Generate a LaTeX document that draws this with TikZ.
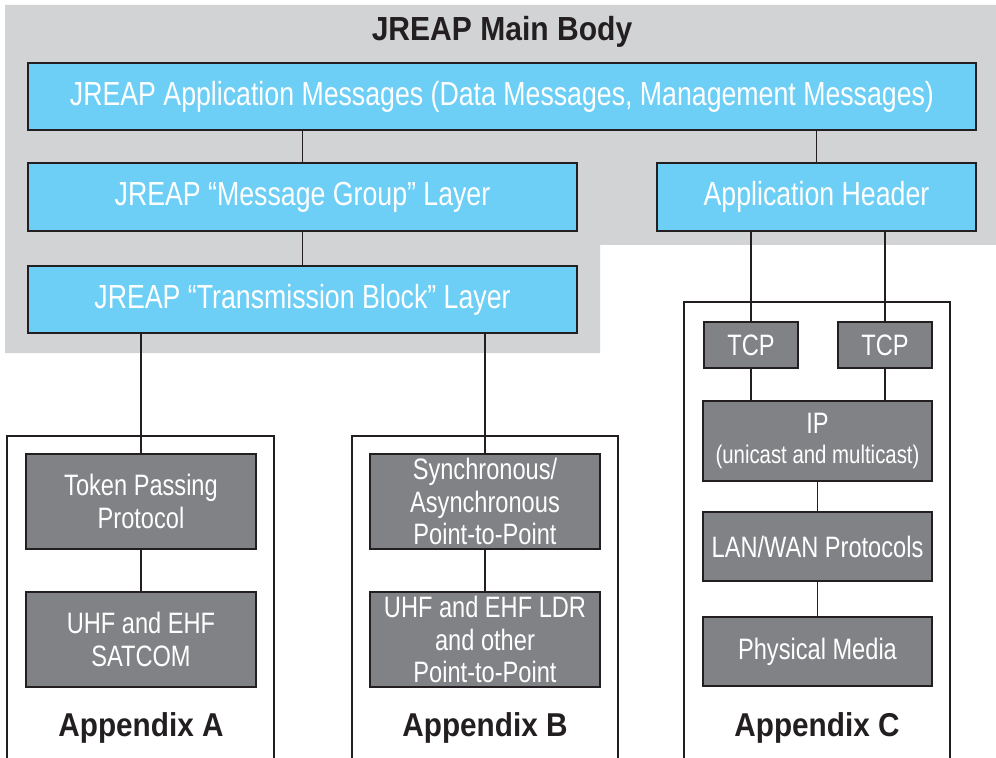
\documentclass[tikz,border=0pt]{standalone}
\usepackage{fontspec}
\setmainfont[FakeStretch=0.8]{Liberation Sans}
\newfontfamily\headfont[FakeStretch=0.9]{Liberation Sans}
\usepackage{tikz}
\usetikzlibrary{positioning, calc}
\definecolor{jCyan}{HTML}{6DCFF6}
\definecolor{jGray}{HTML}{808285}
\definecolor{jPanel}{HTML}{D1D3D4}
\definecolor{jInk}{HTML}{231F20}

\begin{document}
\begin{tikzpicture}[
  bluebox/.style={draw=jInk, line width=1.2pt, fill=jCyan, text=white,
                  minimum height=1.35cm, inner sep=0pt,
                  font=\fontsize{19}{22}\selectfont, align=center},
  graybox/.style={draw=jInk, line width=1.2pt, fill=jGray, text=white,
                  inner sep=0pt, minimum width=4.6cm,
                  font=\fontsize{16.8}{18.3}\selectfont, align=center},
  link/.style={draw=jInk, line width=0.8pt},
  frame/.style={draw=jInk, line width=1.1pt},
  apx/.style={font=\headfont\fontsize{18.8}{22}\bfseries\selectfont, text=jInk}
]
\useasboundingbox (0,0) rectangle (19.92,-15.16);

% main body panel
\fill[jPanel] (0.1,-0.1) -- (19.92,-0.1) -- (19.92,-4.9) -- (12,-4.9)
  -- (12,-7.06) -- (0.1,-7.06) -- cycle;
\node[font=\headfont\fontsize{19}{22}\bfseries\selectfont, text=jInk] (title) at (10.04,-0.64) {JREAP Main Body};

% appendix frames
\draw[frame] (0.14,-15.3) -- (0.14,-8.72) -- (5.48,-8.72) -- (5.48,-15.3);
\draw[frame] (7.04,-15.3) -- (7.04,-8.72) -- (12.36,-8.72) -- (12.36,-15.3);
\draw[frame] (13.68,-15.3) -- (13.68,-6.04) -- (19,-6.04) -- (19,-15.3);

% main body layers
\node[bluebox, minimum width=18.96cm] (appmsg) at (10.04,-1.93)
  {JREAP Application Messages (Data Messages, Management Messages)};
\node[bluebox, minimum width=10.98cm] (msggroup) at (6.05,-3.94)
  {JREAP \textquotedblleft Message Group\textquotedblright\ Layer};
\node[bluebox, minimum width=6.38cm] (apphdr) at (16.33,-3.94)
  {Application Header};
\node[bluebox, minimum width=10.98cm] (transblock) at (6.05,-5.99)
  {JREAP \textquotedblleft Transmission Block\textquotedblright\ Layer};

% appendix A
\node[graybox, minimum height=1.9cm] (token) at (2.82,-10.03) {Token Passing\\Protocol};
\node[graybox, minimum height=1.9cm] (satcom) at (2.82,-12.79) {UHF and EHF\\SATCOM};
\node[apx] (apxA) at (2.82,-14.56) {Appendix A};

% appendix B
\node[graybox, minimum height=1.9cm] (sync) at (9.7,-10.03) {Synchronous/\\Asynchronous\\Point-to-Point};
\node[graybox, minimum height=1.9cm] (ldr) at (9.7,-12.79) {UHF and EHF LDR\\and other\\Point-to-Point};
\node[apx] (apxB) at (9.7,-14.56) {Appendix B};

% appendix C
\node[graybox, minimum width=1.88cm, minimum height=0.92cm] (tcpa) at (15.02,-6.9) {TCP};
\node[graybox, minimum width=1.88cm, minimum height=0.92cm] (tcpb) at (17.7,-6.9) {TCP};
\node[graybox, minimum width=4.58cm, minimum height=1.6cm] (ip) at (16.35,-8.82)
  {IP\\[-1pt]{\fontsize{14.5}{16}\selectfont (unicast and multicast)}};
\node[graybox, minimum width=4.58cm, minimum height=1.38cm] (lanwan) at (16.35,-10.93) {LAN/WAN Protocols};
\node[graybox, minimum width=4.58cm, minimum height=1.38cm] (phys) at (16.35,-13.03) {Physical Media};
\node[apx] (apxC) at (16.34,-14.56) {Appendix C};

% connectors
\draw[link] (appmsg.south -| msggroup.north) -- (msggroup.north);
\draw[link] (appmsg.south -| apphdr.north) -- (apphdr.north);
\draw[link] (msggroup) -- (transblock);
\draw[link] (transblock.south -| token.north) -- (token.north);
\draw[link] (transblock.south -| sync.north) -- (sync.north);
\draw[link] (token) -- (satcom);
\draw[link] (sync) -- (ldr);
\draw[link] (apphdr.south -| tcpa.north) -- (tcpa.north);
\draw[link] (apphdr.south -| tcpb.north) -- (tcpb.north);
\draw[link] (tcpa.south) -- (tcpa.south |- ip.north);
\draw[link] (tcpb.south) -- (tcpb.south |- ip.north);
\draw[link] (ip) -- (lanwan);
\draw[link] (lanwan) -- (phys);
\end{tikzpicture}
\end{document}
